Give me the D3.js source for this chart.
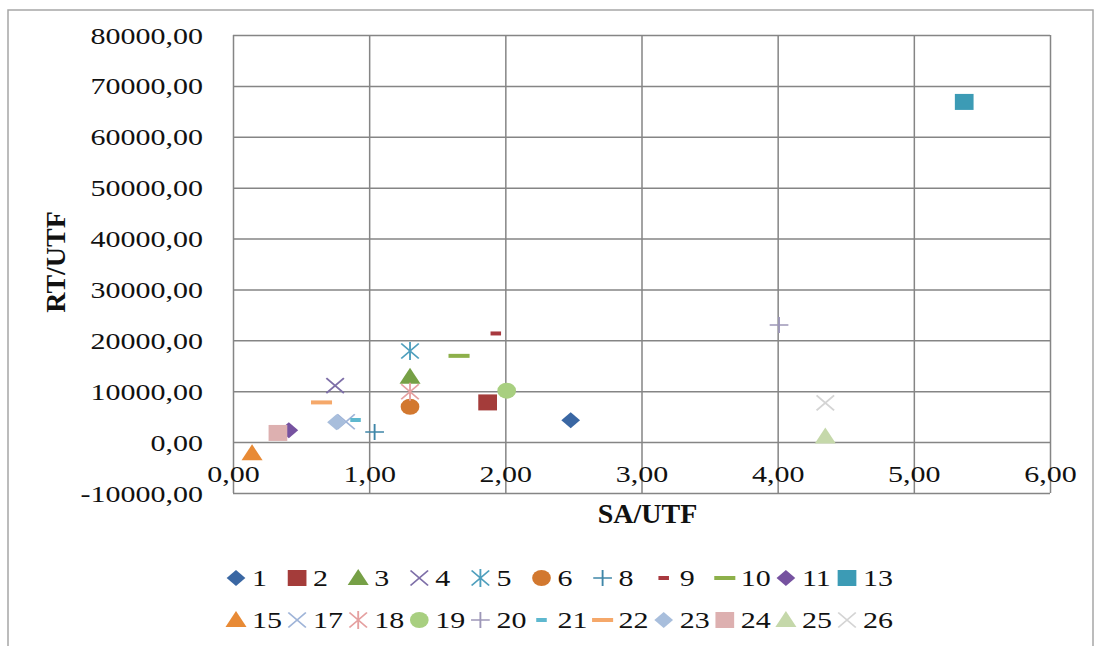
<!doctype html>
<html lang="en">
<head>
  <meta charset="utf-8">
  <title>Scatter chart - D3</title>
  <style>
    body { margin: 0; background: #fff; }
    svg { display: block; }
    text { font-family: "Liberation Serif", "Times New Roman", serif; fill: #111; }
  </style>
</head>
<body>
  <svg></svg>
  <script src="https://cdn.jsdelivr.net/npm/d3@7"></script>
  <script>
    // data
    var seriesNames = ['1', '2', '3', '4', '5', '6', '8', '9', '10', '11', '13',
                       '15', '17', '18', '19', '20', '21', '22', '23', '24', '25', '26'];
    var saUtf = [2.48, 1.87, 1.30, 0.75, 1.30, 1.30, 1.04, 1.93, 1.66, 0.41, 5.37,
                 0.14, 0.83, 1.30, 2.01, 4.01, 0.90, 0.65, 0.76, 0.33, 4.35, 4.35];
    var rtUtf = [4300, 7800, 12850, 11100, 17900, 6950, 2000, 21350, 16950, 2350, 66850,
                 -2200, 4000, 9900, 10100, 23000, 4350, 7800, 3900, 1800, 1100, 7700];
    var shapes = ['diamond', 'square', 'triangle', 'x', 'star', 'circle', 'plus', 'dash', 'longdash', 'diamond', 'square',
                  'triangle', 'x', 'star', 'circle', 'plus', 'dash', 'longdash', 'diamond', 'square', 'triangle', 'x'];
    var colors = ['#3a67a3', '#a43c3a', '#76a046', '#7e6fa8', '#4f9fbd', '#d2782f', '#3f86a8', '#a8393f', '#8db04a', '#7652a0', '#3c9bb5',
                  '#e88a35', '#9fb4d8', '#e5a0a0', '#a8cf80', '#9d97b8', '#5eb8cf', '#f5a86a', '#a8bedc', '#ddb0b0', '#c5d8aa', '#d4d4d4'];
    var xTicks = [0, 1, 2, 3, 4, 5, 6];
    var yTicks = [-10000, 0, 10000, 20000, 30000, 40000, 50000, 60000, 70000, 80000];

    var width = 1097, height = 646;
    var plotLeft = 233, plotRight = 1050, plotTop = 35, plotBottom = 493;
    var stretch = 1.25;   // the picture is wider than tall for its text

    var svg = d3.select('svg').attr('width', width).attr('height', height);

    // outer frame
    svg.append('rect')
      .attr('x', 8).attr('y', 10).attr('width', 1085).attr('height', 700)
      .attr('fill', '#fff').attr('stroke', '#a6a6a6').attr('stroke-width', 1.5);

    var x = d3.scaleLinear().domain([0, 6]).range([plotLeft, plotRight]);
    var y = d3.scaleLinear().domain([-10000, 80000]).range([plotBottom, plotTop]);

    var fmt = d3.formatLocale({ decimal: ',', thousands: '', grouping: [3], currency: ['', ''], minus: '-' }).format('.2f');

    // vertical grid
    svg.append('g')
      .attr('transform', 'translate(0,' + plotBottom + ')')
      .call(d3.axisBottom(x).tickValues(xTicks).tickSize(-(plotBottom - plotTop)).tickFormat(''))
      .call(function (g) { g.select('.domain').remove(); })
      .selectAll('line').attr('stroke', '#858585').attr('stroke-width', 1.5);

    // y axis with horizontal grid
    var yAxis = svg.append('g')
      .attr('transform', 'translate(' + plotLeft + ',0)')
      .call(d3.axisLeft(y).tickValues(yTicks).tickSize(-(plotRight - plotLeft)).tickFormat(fmt))
      .call(function (g) { g.select('.domain').remove(); });
    yAxis.selectAll('line').attr('stroke', '#858585').attr('stroke-width', 1.5);
    yAxis.selectAll('text')
      .attr('x', 0).attr('dy', null).attr('fill', '#111')
      .attr('font-size', 24).attr('font-family', '"Liberation Serif", serif')
      .attr('transform', 'translate(-30,8) scale(' + stretch + ',1)');

    // x axis labels at y = 0
    var xAxis = svg.append('g')
      .attr('transform', 'translate(0,' + y(0) + ')')
      .call(d3.axisBottom(x).tickValues(xTicks).tickSize(0).tickFormat(fmt))
      .call(function (g) { g.select('.domain').remove(); });
    xAxis.selectAll('text')
      .attr('y', 0).attr('dy', null).attr('fill', '#111')
      .attr('font-size', 24).attr('font-family', '"Liberation Serif", serif')
      .attr('transform', 'translate(0,40) scale(' + stretch + ',1)');

    // axis titles
    svg.append('text')
      .attr('x', (plotLeft + plotRight) / 2 + 6).attr('y', 523)
      .attr('text-anchor', 'middle').attr('font-weight', 'bold').attr('font-size', 28)
      .text('SA/UTF');
    svg.append('text')
      .attr('transform', 'translate(65,262) rotate(-90)')
      .attr('text-anchor', 'middle').attr('font-weight', 'bold').attr('font-size', 28)
      .text('RT/UTF');

    // marker shapes
    function markerPath(type) {
      var p = d3.path();
      if (type === 'diamond') { p.moveTo(0, -8); p.lineTo(8, 0); p.lineTo(0, 8); p.lineTo(-8, 0); p.closePath(); }
      else if (type === 'square') { p.rect(-8, -8, 16, 16); }
      else if (type === 'triangle') { p.moveTo(0, -9); p.lineTo(9, 7); p.lineTo(-9, 7); p.closePath(); }
      else if (type === 'circle') { p.arc(0, 0, 8, 0, 2 * Math.PI); }
      else if (type === 'x') { p.moveTo(-7.5, -7.5); p.lineTo(7.5, 7.5); p.moveTo(7.5, -7.5); p.lineTo(-7.5, 7.5); }
      else if (type === 'star') { p.moveTo(-7.5, -7.5); p.lineTo(7.5, 7.5); p.moveTo(7.5, -7.5); p.lineTo(-7.5, 7.5); p.moveTo(0, -9); p.lineTo(0, 9); }
      else if (type === 'plus') { p.moveTo(-8, 0); p.lineTo(8, 0); p.moveTo(0, -8); p.lineTo(0, 8); }
      else if (type === 'dash') { p.rect(-4.5, -2, 9, 4); }
      else if (type === 'longdash') { p.rect(-9, -2, 18, 4); }
      return p.toString();
    }
    var stroked = { x: true, star: true, plus: true };

    function drawMarker(sel) {
      sel.append('path')
        .attr('d', function (i) { return markerPath(shapes[i]); })
        .attr('transform', 'scale(1.17,1)')
        .attr('fill', function (i) { return stroked[shapes[i]] ? 'none' : colors[i]; })
        .attr('stroke', function (i) { return stroked[shapes[i]] ? colors[i] : 'none'; })
        .attr('stroke-width', 1.6);
    }

    var idx = d3.range(seriesNames.length);

    // points
    svg.append('g').selectAll('g').data(idx).enter()
      .append('g')
      .attr('transform', function (i) { return 'translate(' + x(saUtf[i]) + ',' + y(rtUtf[i]) + ')'; })
      .call(drawMarker);

    // legend, two rows of 11
    var legend = svg.append('g').selectAll('g').data(idx).enter()
      .append('g')
      .attr('transform', function (i) { return 'translate(' + (236 + (i % 11) * 61.1) + ',' + (578 + Math.floor(i / 11) * 42) + ')'; });
    legend.call(drawMarker);
    legend.append('text')
      .attr('font-size', 24)
      .attr('transform', 'translate(16,8) scale(' + stretch + ',1)')
      .text(function (i) { return seriesNames[i]; });
  </script>
</body>
</html>
